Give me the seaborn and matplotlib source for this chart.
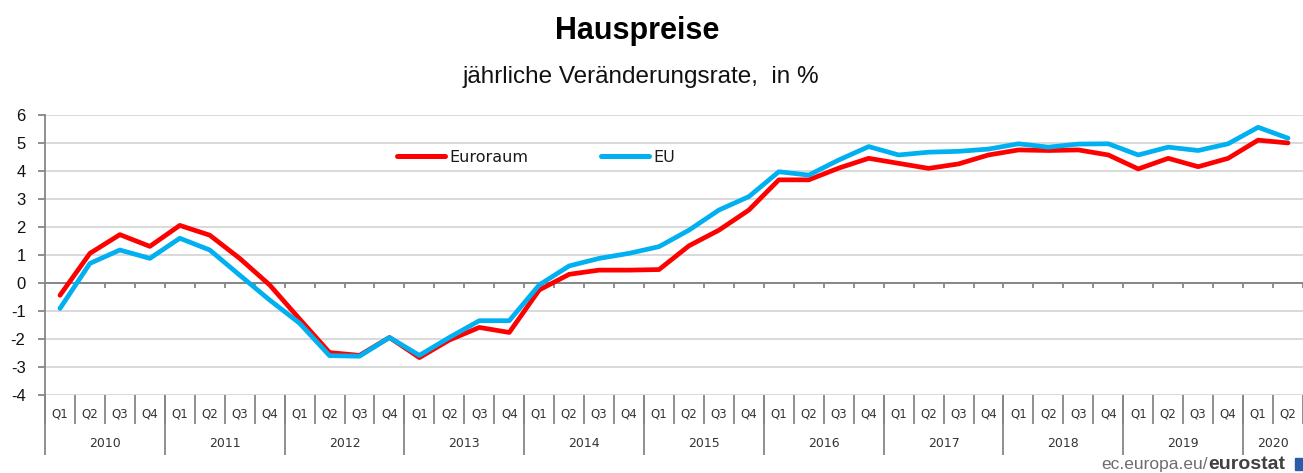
import matplotlib
matplotlib.use("Agg")
import numpy as np
import pandas as pd
import matplotlib.pyplot as plt
import seaborn as sns
from matplotlib.transforms import blended_transform_factory
from matplotlib.patches import Rectangle

# ---------------- data ----------------
years = ["2010", "2011", "2012", "2013", "2014", "2015",
         "2016", "2017", "2018", "2019", "2020"]
quarters = ["Q1", "Q2", "Q3", "Q4"]
period_quarter = [q for y in years for q in quarters][:42]
period_year = [y for y in years for q in quarters][:42]

euroraum = [-0.45, 1.05, 1.72, 1.30,
            2.05, 1.70, 0.87, -0.08,
            -1.30, -2.50, -2.60, -1.96,
            -2.68, -2.05, -1.60, -1.78,
            -0.26, 0.30, 0.45, 0.45,
            0.47, 1.32, 1.88, 2.60,
            3.68, 3.68, 4.10, 4.45,
            4.27, 4.09, 4.25, 4.57,
            4.75, 4.73, 4.75, 4.57,
            4.07, 4.45, 4.15, 4.45,
            5.10, 5.00]
eu = [-0.92, 0.69, 1.17, 0.87,
      1.59, 1.17, 0.27, -0.62,
      -1.45, -2.61, -2.63, -1.96,
      -2.60, -1.96, -1.36, -1.36,
      -0.08, 0.60, 0.87, 1.05,
      1.29, 1.88, 2.60, 3.08,
      3.97, 3.85, 4.39, 4.87,
      4.57, 4.67, 4.70, 4.78,
      4.97, 4.85, 4.96, 4.97,
      4.57, 4.85, 4.73, 4.97,
      5.56, 5.17]
series_names = ["Euroraum", "EU"]
colors = {"Euroraum": "#FF0000", "EU": "#00B0F0"}

title = "Hauspreise"
subtitle = "jährliche Veränderungsrate,  in %"

n = len(euroraum)
df = pd.DataFrame({
    "idx": list(range(n)) * 2,
    "value": euroraum + eu,
    "series": [series_names[0]] * n + [series_names[1]] * n,
})

# ---------------- style ----------------
sns.set_theme(style="white")
plt.rcParams["font.family"] = ["Liberation Sans", "DejaVu Sans"]
plt.rcParams["axes.unicode_minus"] = False

W, H = 1303, 473
fig = plt.figure(figsize=(W / 100, H / 100), dpi=100)
ax_left, ax_bottom, ax_top = 45, 394.5, 115
ax = fig.add_axes([ax_left / W, (H - ax_bottom) / H, 1 - ax_left / W,
                   (ax_bottom - ax_top) / H])

sns.lineplot(data=df, x="idx", y="value", hue="series", hue_order=series_names,
             palette=colors, linewidth=3.4, ax=ax, legend=True)

px_per_unit = 30.12
ax.set_xlim(-0.5, -0.5 + (W - ax_left) / px_per_unit)
ax.set_ylim(-4, 6)

gray = "#868686"
# y axis
ax.set_yticks(range(-4, 7))
ax.yaxis.grid(True, color="#D9D9D9", linewidth=1.4)
ax.xaxis.grid(False)
ax.set_axisbelow(True)
for s in ["top", "right", "bottom"]:
    ax.spines[s].set_visible(False)
ax.spines["left"].set_color(gray)
ax.spines["left"].set_linewidth(1.3)
ax.tick_params(axis="y", which="major", left=True, length=5, width=1.3,
               color=gray, direction="out", pad=9, labelsize=12,
               labelcolor="#111111")
ax.set_ylabel("")
ax.set_xlabel("")

# zero axis line with tick marks
boundaries = np.arange(-0.5, n, 1.0)
ax.axhline(0, color=gray, linewidth=1.4, zorder=1.5)
ax.vlines(boundaries[1:], -0.2, 0, color=gray, linewidth=1.3, zorder=1.5)

# category axis (quarters)
ax.set_xticks(range(n))
ax.set_xticklabels(period_quarter, fontsize=8.5, family="DejaVu Sans",
                   color="#333333")
ax.tick_params(axis="x", which="major", bottom=True, length=0, pad=9)
ax.set_xticks(boundaries, minor=True)
ax.tick_params(axis="x", which="minor", bottom=True, length=20.9, width=1.3,
               color=gray, direction="out")

# year separators and labels
trans = blended_transform_factory(ax.transData, ax.transAxes)
plot_h = ax_bottom - ax_top
year_bounds = [i - 0.5 for i in range(n) if period_quarter[i] == "Q1"]
ax.vlines(year_bounds, -(455 - ax_bottom) / plot_h, 0, color=gray,
          linewidth=1.3, transform=trans, clip_on=False)
for y in years:
    idxs = [i for i in range(n) if period_year[i] == y]
    if idxs:
        ax.text(np.mean(idxs), -(443 - ax_bottom) / plot_h, y,
                transform=trans, ha="center", va="center", fontsize=9,
                family="DejaVu Sans", color="#333333", clip_on=False)

# legend
handles, labels = ax.get_legend_handles_labels()
leg = ax.legend(handles, labels, loc="center left",
                bbox_to_anchor=(397 / W, 1 - 157 / H),
                bbox_transform=fig.transFigure, ncol=2, frameon=False,
                borderpad=0, borderaxespad=0, handlelength=3.0,
                handletextpad=0.25, columnspacing=4.6,
                prop={"family": "DejaVu Sans", "size": 11.5})
for t in leg.get_texts():
    t.set_color("#1a1a1a")
for l in leg.get_lines():
    l.set_linewidth(3.6)

# titles
fig.text(637.5 / W, 1 - 38.5 / H, title, ha="center", va="baseline",
         fontsize=22, fontweight="bold", color="black")
fig.text(641 / W, 1 - 83.5 / H, subtitle, ha="center", va="baseline",
         fontsize=17.5, color="#111111")

# watermark
fig.text(1208 / W, 1 - 469 / H, "ec.europa.eu/", ha="right", va="baseline",
         fontsize=12.5, color="#6d6d6d")
fig.text(1208 / W, 1 - 469 / H, "eurostat", ha="left", va="baseline",
         fontsize=14, fontweight="bold", color="#404040")
fig.patches.append(Rectangle((1295 / W, 1 - 470 / H), 10 / W, 12 / H,
                             transform=fig.transFigure, color="#2B5CA8"))

fig.savefig("out.png", dpi=100)
